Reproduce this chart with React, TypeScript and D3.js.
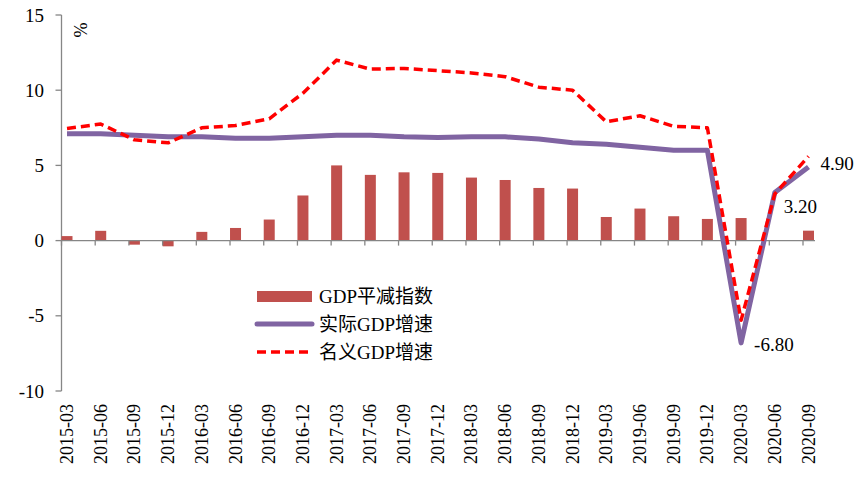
import React from "react";
import * as d3 from "d3";

const categories = [
  "2015-03","2015-06","2015-09","2015-12","2016-03","2016-06","2016-09","2016-12",
  "2017-03","2017-06","2017-09","2017-12","2018-03","2018-06","2018-09","2018-12",
  "2019-03","2019-06","2019-09","2019-12","2020-03","2020-06","2020-09",
];
const deflator = [0.3,0.65,-0.27,-0.38,0.58,0.84,1.4,3.0,5.0,4.37,4.54,4.5,4.19,4.03,3.5,3.46,1.57,2.13,1.62,1.44,1.5,0,0.66];
const realGrowth = [7.1,7.1,7.0,6.9,6.9,6.8,6.8,6.9,7.0,7.0,6.9,6.85,6.9,6.9,6.75,6.5,6.4,6.2,6.0,6.0,-6.8,3.2,4.9];
const nominalGrowth = [7.45,7.75,6.7,6.5,7.5,7.65,8.1,9.8,12.0,11.4,11.45,11.3,11.15,10.9,10.2,10.0,7.9,8.3,7.6,7.5,-5.3,3.1,5.6];
const yTicks = [-10,-5,0,5,10,15];
const legendLabels = ["GDP平减指数","实际GDP增速","名义GDP增速"];
const annotations = [
  { idx: 20, text: "-6.80", dx: 13, dy: 2 },
  { idx: 21, text: "3.20", dx: 9, dy: 14 },
  { idx: 22, text: "4.90", dx: 12, dy: -3 },
];

const FONT = "'Liberation Serif','Noto Sans CJK SC',serif";
const AXIS = "#868686";

export default function App() {
  const y = d3.scaleLinear().domain([-10, 15]).range([391, 15]);
  const xc = d3.scalePoint<string>().domain(categories).range([67, 808.5]);
  const half = 5.5;
  const y0 = y(0);

  const line = d3
    .line<number>()
    .x((_, i) => xc(categories[i]) as number)
    .y((d) => y(d));

  return (
    <svg
      width={864}
      height={481}
      style={{ position: "absolute", left: 0, top: 0, background: "#fff", fontFamily: FONT }}
    >
      {/* y axis */}
      <line x1={61.5} x2={61.5} y1={y(15)} y2={y(-10)} stroke={AXIS} strokeWidth={1.3} />
      {yTicks.map((t) => (
        <g key={t}>
          <line x1={55.5} x2={61.5} y1={y(t)} y2={y(t)} stroke={AXIS} strokeWidth={1.3} />
          <text x={44} y={y(t)} textAnchor="end" dominantBaseline="central" fontSize={19} fill="#000">
            {t}
          </text>
        </g>
      ))}
      <text transform={`translate(80,30) rotate(90)`} textAnchor="middle" dominantBaseline="central" fontSize={18}>
        %
      </text>

      {/* bars */}
      {deflator.map((v, i) => {
        const cx = xc(categories[i]) as number;
        return (
          <rect
            key={i}
            x={cx - half}
            width={11}
            y={Math.min(y(v), y0)}
            height={Math.abs(y(v) - y0)}
            fill="#C0504D"
          />
        );
      })}

      {/* x axis */}
      <line x1={61.5} x2={815} y1={y0} y2={y0} stroke={AXIS} strokeWidth={1.3} />
      {categories.map((c, i) => {
        const cx = xc(c) as number;
        return (
          <g key={c}>
            <line x1={cx - half} x2={cx - half} y1={y0} y2={y0 + 5} stroke={AXIS} strokeWidth={1.3} />
            <text
              transform={`translate(${cx},404) rotate(-90)`}
              textAnchor="end"
              dominantBaseline="central"
              fontSize={18}
            >
              {c}
            </text>
          </g>
        );
      })}

      {/* lines */}
      <path d={line(realGrowth) || ""} fill="none" stroke="#8064A2" strokeWidth={5} strokeLinejoin="round" />
      <path
        d={line(nominalGrowth) || ""}
        fill="none"
        stroke="#FF0000"
        strokeWidth={3.5}
        strokeDasharray="9,5"
        strokeLinejoin="round"
      />

      {/* annotations */}
      {annotations.map((a) => (
        <text
          key={a.text}
          x={(xc(categories[a.idx]) as number) + a.dx}
          y={y(realGrowth[a.idx]) + a.dy}
          dominantBaseline="central"
          fontSize={19}
        >
          {a.text}
        </text>
      ))}

      {/* legend */}
      <rect x={257} y={291} width={55} height={11} fill="#C0504D" />
      <line x1={257} x2={312} y1={324} y2={324} stroke="#8064A2" strokeWidth={5} strokeLinecap="round" />
      <line x1={257} x2={312} y1={352} y2={352} stroke="#FF0000" strokeWidth={3.5} strokeDasharray="9,5" />
      {legendLabels.map((l, i) => (
        <text key={l} x={319} y={296 + i * 28} dominantBaseline="central" fontSize={19}>
          {l}
        </text>
      ))}
    </svg>
  );
}
